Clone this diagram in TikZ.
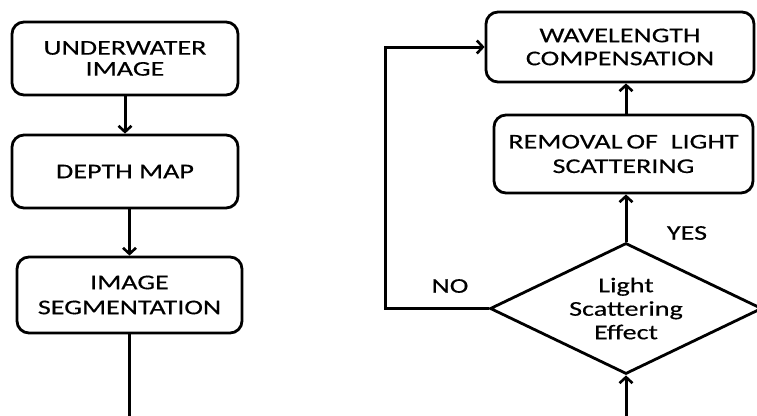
\documentclass[tikz,border=0pt]{standalone}
\usepackage{fontspec}
\setmainfont{Carlito}[FakeStretch=1.34,FakeBold=0.3]
\usetikzlibrary{shapes.geometric,arrows.meta}

\tikzset{
  procbox/.style={draw, rounded corners=12pt, line width=2.8pt, align=center,
    inner sep=0pt},
  decision/.style={draw, diamond, line width=2.8pt, align=center, inner sep=0pt,
    shape aspect=2.1, minimum width=272pt, minimum height=131pt,
    font=\fontsize{21}{23.5}\selectfont},
  flow/.style={line width=3pt, -{Straight Barb[length=6pt,width=13pt,line width=2.6pt]}},
  tag/.style={font=\fontsize{21}{24}\selectfont, inner sep=0pt}
}

\begin{document}
\begin{tikzpicture}[x=1pt,y=-1pt]
  \useasboundingbox (0,0) rectangle (757,415);
  \clip (0,0) rectangle (757,415);

  % left column
  \node[procbox, minimum width=226pt, minimum height=73pt, font=\fontsize{21}{21}\selectfont]
    (uw) at (125,58.5) {UNDERWATER\\IMAGE};
  \node[procbox, minimum width=226pt, minimum height=73pt, font=\fontsize{21}{24}\selectfont]
    (dm) at (125,171.5) {DEPTH MAP};
  \node[procbox, minimum width=225pt, minimum height=76pt, font=\fontsize{21}{25}\selectfont]
    (seg) at (129.5,295) {IMAGE\\SEGMENTATION};

  % right column
  \node[procbox, minimum width=268pt, minimum height=70pt, font=\fontsize{21}{23}\selectfont]
    (wc) at (620,47) {WAVELENGTH\\COMPENSATION};
  \node[procbox, minimum width=259pt, minimum height=78pt, font=\fontsize{21}{24.5}\selectfont]
    (rem) at (623.5,154) {REMOVAL\kern4pt OF\ \ LIGHT\\SCATTERING};
  \node[decision] (dia) at (626,308.5) {Light\\Scattering\\Effect};

  % labels on the decision branches
  \node[tag] (no) at (450,286) {NO};
  \node[tag] (yes) at (687,233) {YES};

  % free corner points of the routed connectors
  \coordinate (fb) at (385,47);
  \coordinate (bot) at (0,430);

  % connectors
  \draw[flow] (uw.south) -- (dm.north);
  \draw[flow] (seg.north |- dm.south) -- (seg.north);
  \draw[flow] (seg.south) |- (bot) -| (dia.south);
  \draw[flow] (dia.north) -- (dia.north |- rem.south);
  \draw[flow] (rem.north -| dia.north) -- (wc.south -| dia.north);
  \draw[flow] (dia.west) -| (fb) -- (wc.west);
\end{tikzpicture}
\end{document}
